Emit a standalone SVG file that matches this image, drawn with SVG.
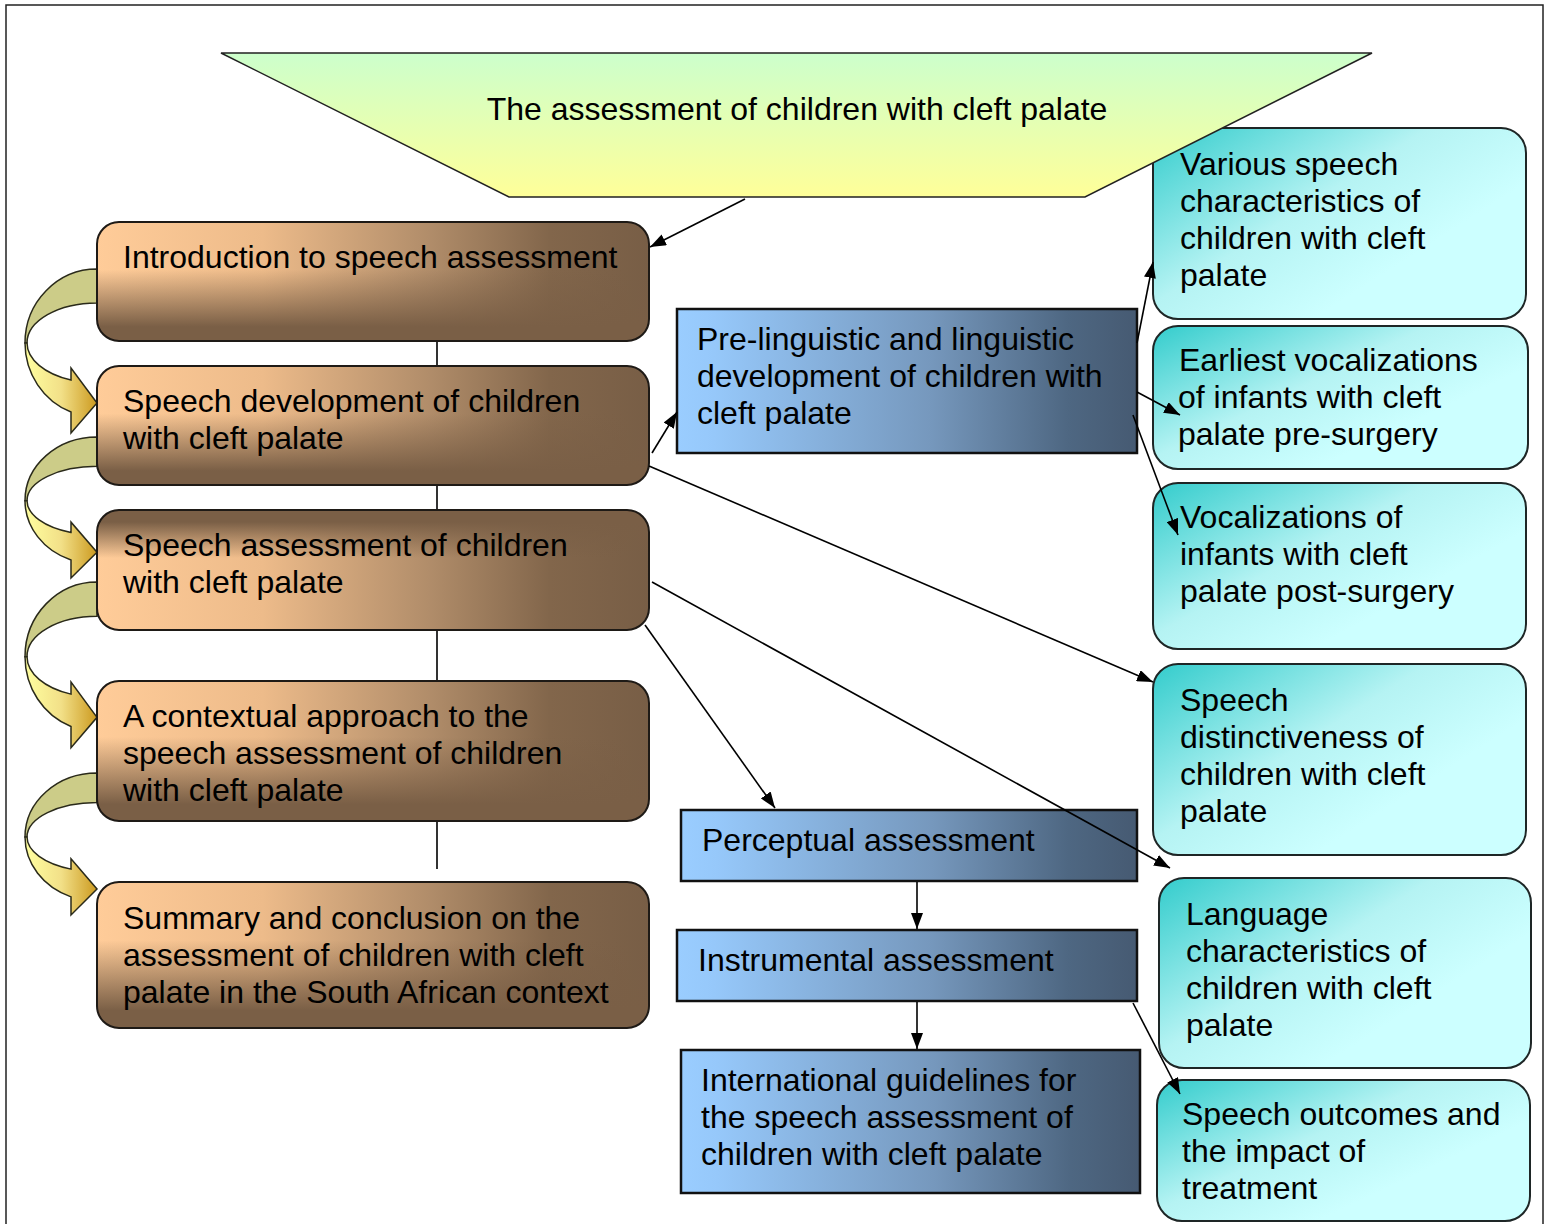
<svg xmlns="http://www.w3.org/2000/svg" width="1549" height="1224" viewBox="0 0 1549 1224">
<defs>
<style>
text{font-family:"Liberation Sans",Arial,sans-serif;font-size:32px;fill:#000}
.brn{stroke:#1e1a16;stroke-width:2}
.blu{stroke:#111;stroke-width:2.5}
.tea{stroke:#1e2626;stroke-width:2;fill:url(#teal)}
.con{stroke:#000;stroke-width:1.6;fill:none}
.arw{marker-end:url(#ah)}
.olv{fill:#CCCC88;stroke:#2a2a1a;stroke-width:1.5}
.ylw{fill:url(#yel);stroke:#2a2a1a;stroke-width:1.5}
</style>
<linearGradient id="brownH" x1="0" y1="0" x2="1" y2="0">
<stop offset="0" stop-color="#FFCC99"/>
<stop offset="0.3" stop-color="#EDBB8A"/>
<stop offset="0.6" stop-color="#B18D6A"/>
<stop offset="0.82" stop-color="#82664B"/>
<stop offset="1" stop-color="#785E46"/>
</linearGradient>
<linearGradient id="shadeDown" x1="0" y1="0" x2="0" y2="1">
<stop offset="0" stop-color="#7A5F46" stop-opacity="0"/>
<stop offset="0.4" stop-color="#7A5F46" stop-opacity="0"/>
<stop offset="0.88" stop-color="#7A5F46" stop-opacity="1"/>
<stop offset="1" stop-color="#7A5F46" stop-opacity="1"/>
</linearGradient>
<linearGradient id="shadeUp" x1="0" y1="0" x2="0" y2="1">
<stop offset="0" stop-color="#7A5F46" stop-opacity="1"/>
<stop offset="0.1" stop-color="#7A5F46" stop-opacity="1"/>
<stop offset="0.4" stop-color="#7A5F46" stop-opacity="0"/>
<stop offset="1" stop-color="#7A5F46" stop-opacity="0"/>
</linearGradient>
<linearGradient id="blue" x1="0" y1="0" x2="1" y2="0">
<stop offset="0" stop-color="#9ACDFF"/>
<stop offset="0.08" stop-color="#96C8FA"/>
<stop offset="0.55" stop-color="#7698BD"/>
<stop offset="0.85" stop-color="#4E6782"/>
<stop offset="1" stop-color="#465A72"/>
</linearGradient>
<linearGradient id="teal" x1="0" y1="0" x2="0.75" y2="0.6">
<stop offset="0" stop-color="#33CCCC"/>
<stop offset="0.6" stop-color="#B5F3F3"/>
<stop offset="1" stop-color="#CCFFFF"/>
</linearGradient>
<linearGradient id="trap" x1="0" y1="0" x2="0" y2="1">
<stop offset="0" stop-color="#CCFFCC"/>
<stop offset="1" stop-color="#FFFF99"/>
</linearGradient>
<linearGradient id="yel" x1="0" y1="0" x2="1" y2="0">
<stop offset="0" stop-color="#FFFFA0"/>
<stop offset="0.5" stop-color="#F2E088"/>
<stop offset="1" stop-color="#CC9A20"/>
</linearGradient>
<marker id="ah" markerUnits="userSpaceOnUse" markerWidth="16" markerHeight="12" viewBox="0 0 16 12" refX="16" refY="6" orient="auto">
<path d="M0,0 L16,6 L0,12 Z" fill="#000"/>
</marker>
<g id="curvedArrow">
<path class="olv" vector-effect="non-scaling-stroke" d="M97 0 A72 74 0 0 0 25 74 L27 74 A70 40 0 0 1 97 34 Z"/>
<path class="ylw" vector-effect="non-scaling-stroke" d="M25 74 A72 74 0 0 0 71 143 L71 164 L97 134 L71 99 L71 111 A70 40 0 0 1 27 74 Z"/>
</g>
</defs>

<rect id="frame" x="6" y="5" width="1537" height="1232" fill="#fff" stroke="#222" stroke-width="1.5"/>

<g id="flowArrows">
<use href="#curvedArrow" transform="translate(0,269)"/>
<use href="#curvedArrow" transform="translate(0,437) scale(1,0.86)"/>
<use href="#curvedArrow" transform="translate(0,582) scale(1,1.01)"/>
<use href="#curvedArrow" transform="translate(0,773) scale(1,0.866)"/>
</g>

<g id="spine">
<path class="con" d="M437 341 V366 M437 485 V510 M437 630 V681 M437 821 V869"/>
</g>

<g id="node-intro">
<rect x="97" y="222" width="552" height="119" rx="22" fill="url(#brownH)"/>
<rect class="brn" x="97" y="222" width="552" height="119" rx="22" fill="url(#shadeDown)"/>
<text x="123" y="268">Introduction to speech assessment</text>
</g>
<g id="node-development">
<rect x="97" y="366" width="552" height="119" rx="22" fill="url(#brownH)"/>
<rect class="brn" x="97" y="366" width="552" height="119" rx="22" fill="url(#shadeDown)"/>
<text x="123" y="412">Speech development of children<tspan x="123" dy="37">with cleft palate</tspan></text>
</g>
<g id="node-assessment">
<rect x="97" y="510" width="552" height="120" rx="22" fill="url(#brownH)"/>
<rect class="brn" x="97" y="510" width="552" height="120" rx="22" fill="url(#shadeUp)"/>
<text x="123" y="556">Speech assessment of children<tspan x="123" dy="37">with cleft palate</tspan></text>
</g>
<g id="node-contextual">
<rect x="97" y="681" width="552" height="140" rx="22" fill="url(#brownH)"/>
<rect class="brn" x="97" y="681" width="552" height="140" rx="22" fill="url(#shadeDown)"/>
<text x="123" y="727">A contextual approach to the<tspan x="123" dy="37">speech assessment of children</tspan><tspan x="123" dy="37">with cleft palate</tspan></text>
</g>
<g id="node-summary">
<rect x="97" y="882" width="552" height="146" rx="22" fill="url(#brownH)"/>
<rect class="brn" x="97" y="882" width="552" height="146" rx="22" fill="url(#shadeDown)"/>
<text x="123" y="929">Summary and conclusion on the<tspan x="123" dy="37">assessment of children with cleft</tspan><tspan x="123" dy="37">palate in the South African context</tspan></text>
</g>

<g id="node-prelinguistic">
<rect class="blu" x="677" y="309" width="460" height="144" fill="url(#blue)"/>
<text x="697" y="350">Pre-linguistic and linguistic<tspan x="697" dy="37">development of children with</tspan><tspan x="697" dy="37">cleft palate</tspan></text>
</g>
<g id="node-perceptual">
<rect class="blu" x="681" y="810" width="456" height="71" fill="url(#blue)"/>
<text x="702" y="851">Perceptual assessment</text>
</g>
<g id="node-instrumental">
<rect class="blu" x="677" y="930" width="460" height="71" fill="url(#blue)"/>
<text x="698" y="971">Instrumental assessment</text>
</g>
<g id="node-international">
<rect class="blu" x="681" y="1050" width="459" height="143" fill="url(#blue)"/>
<text x="701" y="1091">International guidelines for<tspan x="701" dy="37">the speech assessment of</tspan><tspan x="701" dy="37">children with cleft palate</tspan></text>
</g>

<g id="node-various">
<rect class="tea" x="1153" y="128" width="373" height="191" rx="25"/>
<text x="1180" y="175">Various speech<tspan x="1180" dy="37">characteristics of</tspan><tspan x="1180" dy="37">children with cleft</tspan><tspan x="1180" dy="37">palate</tspan></text>
</g>
<g id="node-earliest">
<rect class="tea" x="1153" y="326" width="375" height="143" rx="25"/>
<text x="1179" y="371">Earliest vocalizations<tspan x="1178" dy="37">of infants with cleft</tspan><tspan x="1178" dy="37">palate pre-surgery</tspan></text>
</g>
<g id="node-vocalizations">
<rect class="tea" x="1153" y="483" width="373" height="166" rx="25"/>
<text x="1180" y="528">Vocalizations of<tspan x="1180" dy="37">infants with cleft</tspan><tspan x="1180" dy="37">palate post-surgery</tspan></text>
</g>
<g id="node-distinctiveness">
<rect class="tea" x="1153" y="664" width="373" height="191" rx="25"/>
<text x="1180" y="711">Speech<tspan x="1180" dy="37">distinctiveness of</tspan><tspan x="1180" dy="37">children with cleft</tspan><tspan x="1180" dy="37">palate</tspan></text>
</g>
<g id="node-language">
<rect class="tea" x="1159" y="878" width="372" height="190" rx="25"/>
<text x="1186" y="925">Language<tspan x="1186" dy="37">characteristics of</tspan><tspan x="1186" dy="37">children with cleft</tspan><tspan x="1186" dy="37">palate</tspan></text>
</g>
<g id="node-outcomes">
<rect class="tea" x="1157" y="1080" width="373" height="141" rx="25"/>
<text x="1182" y="1125">Speech outcomes and<tspan x="1182" dy="37">the impact of</tspan><tspan x="1182" dy="37">treatment</tspan></text>
</g>

<g id="node-title">
<polygon points="221,53 1372,53 1085,197 509,197" fill="url(#trap)" stroke="#222" stroke-width="1.5"/>
<text x="797" y="120" text-anchor="middle">The assessment of children with cleft palate</text>
</g>

<g id="connectors">
<path class="con arw" d="M745 199 L650 247"/>
<path class="con arw" d="M652 453 L677 412"/>
<path class="con arw" d="M649 466 L1153 682"/>
<path class="con arw" d="M652 582 L1170 868"/>
<path class="con arw" d="M645 625 L775 808"/>
<path class="con arw" d="M1137 343 L1153 262"/>
<path class="con arw" d="M1137 392 L1180 415"/>
<path class="con arw" d="M1133 415 L1178 535"/>
<path class="con arw" d="M917 882 L917 929"/>
<path class="con arw" d="M917 1002 L917 1049"/>
<path class="con arw" d="M1133 1003 L1180 1094"/>
</g>
</svg>
